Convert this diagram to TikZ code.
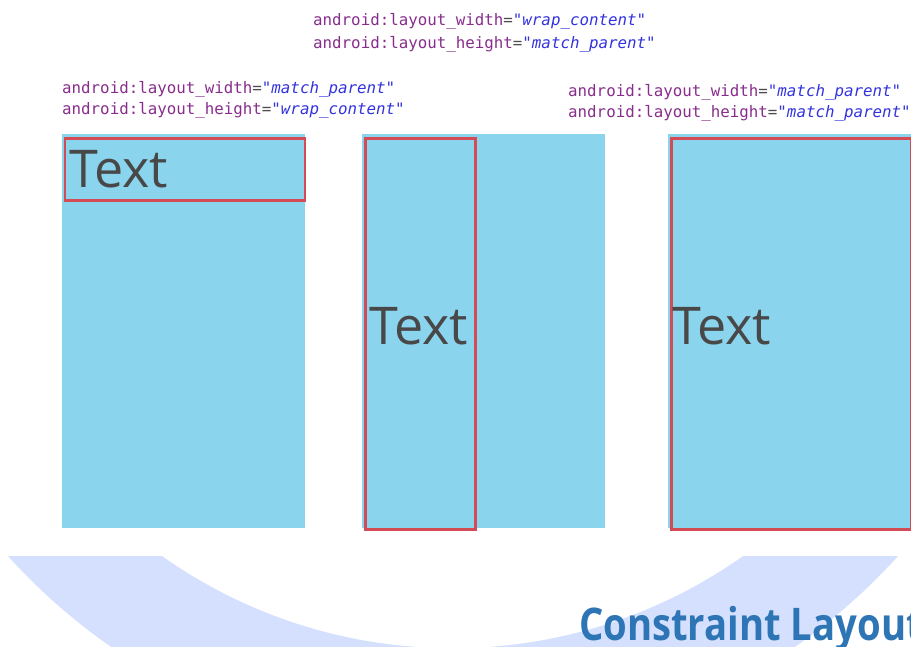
\documentclass[tikz,border=0pt]{standalone}
\usepackage{fontspec}
\setmainfont{Open Sans}
\newfontfamily\codefont{DejaVu Sans Mono}
\newfontfamily\titlefont[FakeStretch=0.85]{Open Sans}
\definecolor{panelblue}{HTML}{8AD4EE}
\definecolor{boxred}{HTML}{D24B55}
\definecolor{ringblue}{HTML}{D4E0FD}
\definecolor{attrpurple}{HTML}{882D8C}
\definecolor{valblue}{HTML}{3333DD}
\definecolor{titleblue}{HTML}{2E75B6}
\definecolor{textgray}{HTML}{484848}
\begin{document}
\begin{tikzpicture}[x=1pt,y=-1pt,
  panel/.style={fill=panelblue, draw=none, anchor=north west, inner sep=0pt},
  redbox/.style={draw=boxred, line width=2.5pt, anchor=north west, inner sep=0pt},
  bigtext/.style={font=\fontsize{52}{52}\selectfont, text=textgray, anchor=base west, inner sep=0pt},
  code/.style={font=\codefont\fontsize{15.8}{15.8}\selectfont, anchor=base west, inner sep=0pt, text=attrpurple}]
\useasboundingbox (0,0) rectangle (911,646);
% ring at the bottom
\begin{scope}
\clip (0,556) rectangle (911,646);
\fill[ringblue, even odd rule] (453,154.5) circle[radius=599.4pt] (452.5,144.4) circle[radius=503.8pt];
\end{scope}
% panels
\node[panel, minimum width=243pt, minimum height=394pt] (p1) at (62,134) {};
\node[panel, minimum width=243pt, minimum height=394pt] (p2) at (362,134) {};
\node[panel, minimum width=243pt, minimum height=394pt] (p3) at (668,134) {};
% red boxes
\node[redbox, minimum width=240pt, minimum height=62pt] (r1) at (63.5,137) {};
\node[redbox, minimum width=110pt, minimum height=391pt] (r2) at (364,137) {};
\node[redbox, minimum width=240pt, minimum height=391pt] (r3) at (670,137) {};
% texts
\node[bigtext] (t1) at (69,187) {Text};
\node[bigtext] (t2) at (369,344) {Text};
\node[bigtext] (t3) at (672,344) {Text};
% code labels
\node[code] (c1a) at (313,25) {android:layout\_width\textcolor{black!70}{=}\textcolor{valblue}{\itshape"wrap\_content"}};
\node[code] (c1b) at (313,48) {android:layout\_height\textcolor{black!70}{=}\textcolor{valblue}{\itshape"match\_parent"}};
\node[code] (c2a) at (62,93) {android:layout\_width\textcolor{black!70}{=}\textcolor{valblue}{\itshape"match\_parent"}};
\node[code] (c2b) at (62,114) {android:layout\_height\textcolor{black!70}{=}\textcolor{valblue}{\itshape"wrap\_content"}};
\node[code] (c3a) at (568,96) {android:layout\_width\textcolor{black!70}{=}\textcolor{valblue}{\itshape"match\_parent"}};
\node[code] (c3b) at (568,117) {android:layout\_height\textcolor{black!70}{=}\textcolor{valblue}{\itshape"match\_parent"}};
% title
\begin{scope}
\clip (0,0) rectangle (911,646);
\node[font=\titlefont\bfseries\fontsize{45}{45}\selectfont, text=titleblue, anchor=base west, inner sep=0pt] (title) at (579,640) {Constraint Layout};
\end{scope}
\end{tikzpicture}
\end{document}
